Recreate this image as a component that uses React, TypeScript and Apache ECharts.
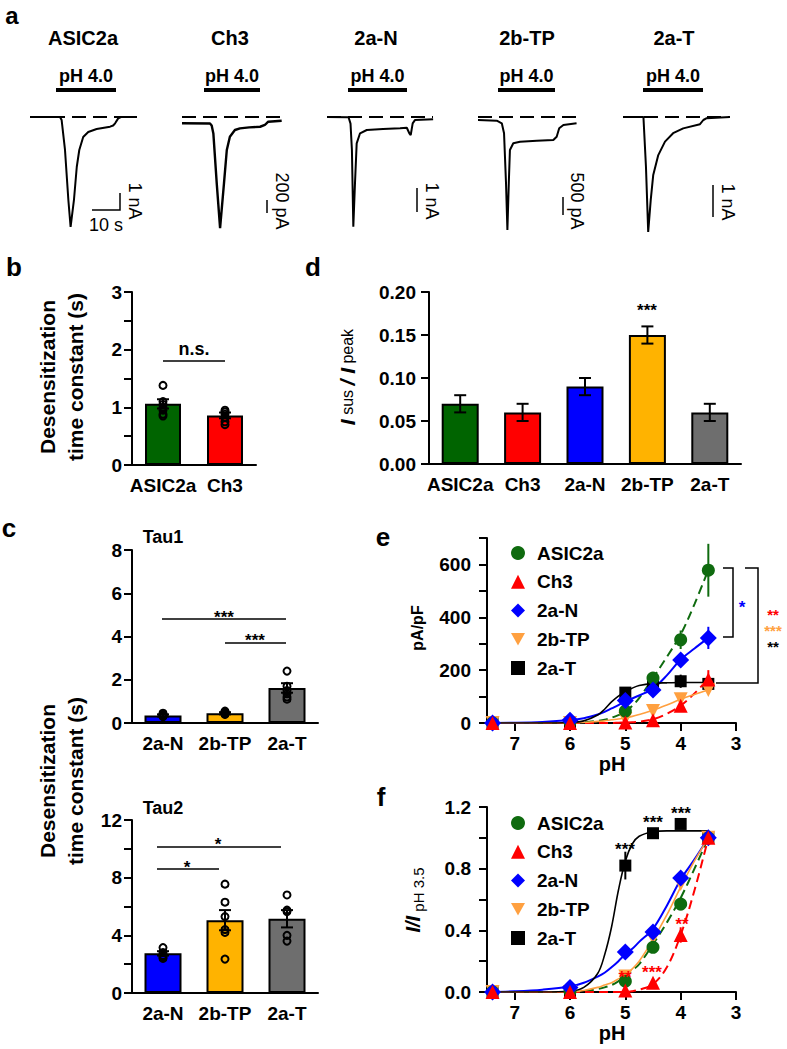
import React, { useEffect, useRef } from "react";
import * as echarts from "echarts";

const FONT = "'Liberation Sans', Arial, Helvetica, sans-serif";

// ---------------- Panel a: current traces ([time s, current]) ----------------
const TRACE_TITLES = ["ASIC2a", "Ch3", "2a-N", "2b-TP", "2a-T"];
const TRACE_ASIC2A = [[0, 0], [10.7, 0], [11.3, -0.18], [12.5, -1.94], [13.7, -4.88], [14.5, -6.47], [15.7, -4.88], [16.7, -2.94], [17.6, -1.94], [19.0, -1.18], [20.8, -0.88], [23.8, -0.71], [28.6, -0.57], [29.7, -0.5], [30.4, -0.37], [31.5, -0.08], [32.5, 0], [38.2, 0]];
const TRACE_CH3 = [[0, -97], [10, -100], [10.6, -130], [11.2, -252], [12.4, -1017], [13.6, -1710], [15, -1017], [16, -508], [17.1, -303], [18.9, -200], [20.7, -175], [24, -160], [27.9, -150], [29.6, -123], [30.8, -72], [35.6, -57]];
const TRACE_2AN = [[0, 0], [7.7, -0.01], [8.4, -0.3], [8.9, -1.5], [9.4, -4.99], [10.0, -3.0], [10.6, -1.2], [11.8, -0.74], [14.2, -0.59], [20, -0.54], [26.1, -0.51], [28.5, -0.49], [29.4, -0.74], [29.9, -0.82], [30.6, -0.29], [31.4, -0.14], [37.9, -0.1]];
const TRACE_2BTP = [[0, -68], [6.7, -84], [8.5, -143], [9.3, -370], [10.0, -1498], [10.5, -2565], [11.0, -1498], [11.4, -749], [12.6, -597], [15, -561], [21, -540], [26.9, -522], [28.1, -447], [29.0, -257], [30.5, -181], [35.2, -143]];
const TRACE_2AT = [[0, 0], [7.3, 0], [8.2, -1.66], [9.0, -3.83], [9.9, -2.77], [10.8, -1.93], [12.6, -1.27], [15, -0.82], [17.9, -0.54], [21.5, -0.38], [27.5, -0.24], [28.7, -0.1], [29.9, -0.04], [38.2, 0]];
const TRACES = [TRACE_ASIC2A, TRACE_CH3, TRACE_2AN, TRACE_2BTP, TRACE_2AT];
const SCALE_LABELS = ["1 nA", "200 pA", "1 nA", "500 pA", "1 nA"];

// ---------------- Panel b ----------------
const B_CATS = ["ASIC2a", "Ch3"];
const B_MEAN = [1.06, 0.86];
const B_SEM = [0.08, 0.05];
const B_DOTS = [[1.38, 1.1, 1.05, 1.0, 0.95, 0.88, 0.85], [0.95, 0.92, 0.88, 0.82, 0.75, 0.7]];

// ---------------- Panel d ----------------
const D_CATS = ["ASIC2a", "Ch3", "2a-N", "2b-TP", "2a-T"];
const D_MEAN = [0.07, 0.06, 0.09, 0.15, 0.06];
const D_SEM = [0.01, 0.01, 0.01, 0.01, 0.01];

// ---------------- Panel c ----------------
const C_CATS = ["2a-N", "2b-TP", "2a-T"];
const TAU1_MEAN = [0.35, 0.45, 1.62];
const TAU1_SEM = [0.05, 0.05, 0.22];
const TAU1_DOTS = [[0.3, 0.35, 0.4, 0.45, 0.38, 0.32], [0.4, 0.45, 0.5, 0.55, 0.48, 0.42], [2.4, 1.7, 1.5, 1.35, 1.2, 1.1]];
const TAU2_MEAN = [2.75, 5.05, 5.15];
const TAU2_SEM = [0.15, 0.7, 0.6];
const TAU2_DOTS = [[3.15, 2.8, 2.6, 2.5, 2.4], [7.55, 6.3, 5.3, 4.4, 4.2, 2.35], [6.8, 5.75, 5.65, 4.0, 3.6]];

// ---------------- Panels e / f ----------------
const GROUPS = ["ASIC2a", "Ch3", "2a-N", "2b-TP", "2a-T"];
const PH = [7.4, 6, 5, 4.5, 4, 3.5];
const E_VALUES = [
  [0, 4, 45, 170, 315, 578],
  [0, 0, 2, 10, 65, 165],
  [0, 10, 85, 125, 238, 322],
  [0, 0, 15, 45, 90, 125],
  [0, 0, 115, 155, 158, 148],
];
const E_SEM = [
  [0, 0, 8, 12, 35, 100],
  [0, 0, 0, 5, 15, 35],
  [0, 0, 10, 12, 20, 42],
  [0, 0, 0, 5, 8, 15],
  [0, 0, 10, 15, 25, 20],
];
const F_VALUES = [
  [0, 0.005, 0.07, 0.29, 0.57, 1.0],
  [0, 0, 0.01, 0.06, 0.37, 1.0],
  [0, 0.03, 0.26, 0.39, 0.74, 1.0],
  [0, 0, 0.1, 0.35, 0.7, 1.0],
  [0, 0, 0.82, 1.03, 1.09, 1.0],
];
const F_SEM = [
  [0, 0, 0.02, 0.03, 0.04, 0],
  [0, 0, 0, 0.02, 0.05, 0],
  [0, 0, 0.02, 0.03, 0.03, 0],
  [0, 0, 0, 0.02, 0.03, 0],
  [0, 0, 0.09, 0.03, 0.02, 0],
];
const FIT_PH = [7.5, 7, 6.5, 6, 5.75, 5.5, 5.375, 5.25, 5.125, 5, 4.875, 4.75, 4.5, 4.25, 4, 3.75, 3.5];
const E_FITS = [
  [0, 0, 0, 1, 3, 8, 12, 20, 30, 42, 65, 94, 170, 250, 335, 450, 580],
  [0, 0, 0, 0, 0, 0, 0, 0, 1, 2, 3, 5, 14, 35, 66, 112, 168],
  [0, 1, 4, 11, 18, 32, 42, 55, 68, 83, 93, 104, 130, 180, 240, 282, 322],
  [0, 0, 0, 0, 2, 6, 8, 12, 15, 20, 25, 32, 48, 68, 90, 108, 125],
  [0, 0, 0, 2, 8, 30, 52, 80, 102, 118, 132, 142, 150, 152, 153, 153, 153],
];
const F_FITS = [
  [0, 0, 0, 0, 0.005, 0.02, 0.03, 0.045, 0.07, 0.1, 0.14, 0.18, 0.31, 0.45, 0.61, 0.8, 1.0],
  [0, 0, 0, 0, 0, 0, 0, 0, 0, 0, 0.005, 0.015, 0.05, 0.16, 0.37, 0.66, 1.0],
  [0, 0.005, 0.015, 0.035, 0.06, 0.1, 0.125, 0.16, 0.2, 0.245, 0.28, 0.325, 0.41, 0.56, 0.73, 0.86, 1.0],
  [0, 0, 0, 0, 0.01, 0.03, 0.045, 0.06, 0.085, 0.11, 0.15, 0.2, 0.34, 0.5, 0.68, 0.85, 1.0],
  [0, 0, 0, 0.005, 0.03, 0.12, 0.24, 0.42, 0.66, 0.85, 0.96, 1.01, 1.04, 1.045, 1.045, 1.045, 1.045],
];
const PH_TICKS = [3, 4, 5, 6, 7];

// ---------------- styles / layout ----------------
const BAR_FILL: Record<string, string> = { "ASIC2a": "#006400", "Ch3": "#ff0000", "2a-N": "#0000ff", "2b-TP": "#ffb300", "2a-T": "#6e6e6e" };
const CURVE_COLOR = ["#0f6b0f", "#ff0000", "#0000ff", "#ffa040", "#000000"];
const CURVE_DASH = [true, true, false, false, false];
const CURVE_WIDTH = [2, 2, 2, 1.6, 1.6];
const SYMBOLS = ["circle", "triangle", "diamond", "path://M0,0L10,0L5,9Z", "rect"];
const SYMBOL_SIZE = [13, 14, 17, 14, 12];
const SYMBOL_Z = [6, 8, 7, 5, 4];

const TRACE_LAYOUT = [
  { left: 30, width: 107, ppu: 17, lw: 2 },
  { left: 182, width: 100, ppu: 0.065, lw: 2.4 },
  { left: 327, width: 106, ppu: 22, lw: 2 },
  { left: 478, width: 99, ppu: 0.044, lw: 2 },
  { left: 623, width: 107, ppu: 30, lw: 2 },
];
const PX_PER_S = 2.8;
const TRACE_TOP = 100;
const TRACE_H = 135;
const TRACE_BASE = 17;

const AX = { color: "#000", width: 2 };
const LABEL = { color: "#000", fontWeight: "bold" as const, fontSize: 19, fontFamily: FONT };

function errSeries(xi: number, data: number[][], color: string, cap: number, z: number, name: string) {
  return {
    type: "custom",
    name,
    xAxisIndex: xi,
    yAxisIndex: xi,
    z,
    silent: true,
    data,
    encode: { x: 0, y: 1 },
    renderItem: (_params: any, api: any) => {
      const x = api.value(0);
      const m = api.value(1);
      const s = api.value(2);
      if (!s) return { type: "group", children: [] };
      const top = api.coord([x, m + s]);
      const bot = api.coord([x, m - s]);
      const st = { stroke: color, lineWidth: 2 };
      const children: any[] = [{ type: "line", shape: { x1: top[0], y1: top[1], x2: bot[0], y2: bot[1] }, style: st }];
      if (cap) {
        children.push({ type: "line", shape: { x1: top[0] - cap, y1: top[1], x2: top[0] + cap, y2: top[1] }, style: st });
        children.push({ type: "line", shape: { x1: bot[0] - cap, y1: bot[1], x2: bot[0] + cap, y2: bot[1] }, style: st });
      }
      return { type: "group", children };
    },
  };
}

function buildOption() {
  const grid: any[] = [];
  const xAxis: any[] = [];
  const yAxis: any[] = [];
  const series: any[] = [];
  const g: any[] = [];

  // ---- panel a ----
  TRACE_LAYOUT.forEach((L, i) => {
    grid.push({ left: L.left, top: TRACE_TOP, width: L.width, height: TRACE_H });
    xAxis.push({ type: "value", gridIndex: i, min: 0, max: L.width / PX_PER_S, show: false });
    yAxis.push({ type: "value", gridIndex: i, min: -(TRACE_H - TRACE_BASE) / L.ppu, max: TRACE_BASE / L.ppu, show: false });
    series.push({
      type: "line",
      name: "trace-" + TRACE_TITLES[i],
      xAxisIndex: i,
      yAxisIndex: i,
      data: TRACES[i],
      symbol: "none",
      showSymbol: false,
      silent: true,
      lineStyle: { color: "#000", width: L.lw },
      markLine: {
        silent: true,
        symbol: ["none", "none"],
        label: { show: false },
        lineStyle: { color: "#000", width: 2, type: [14, 7] },
        data: [{ yAxis: 0 }],
      },
    });
  });

  // ---- bar panels ----
  function barPanel(idx: number, rect: any, cats: string[], means: number[], sems: number[], dots: number[][] | null,
    ymax: number, interval: number, fmt: (v: number) => string, margin: number, barWidth: number) {
    grid.push(rect);
    xAxis.push({
      type: "category", gridIndex: idx, data: cats,
      axisLine: { lineStyle: AX },
      axisTick: { length: 6, interval: 0, lineStyle: AX },
      axisLabel: { ...LABEL, interval: 0, margin: 11 },
    });
    yAxis.push({
      type: "value", gridIndex: idx, min: 0, max: ymax, interval,
      axisLine: { show: true, lineStyle: AX },
      axisTick: { show: true, length: 8, lineStyle: AX },
      splitLine: { show: false },
      axisLabel: { ...LABEL, margin, formatter: fmt },
    });
    series.push({
      type: "bar", name: "bar" + idx, xAxisIndex: idx, yAxisIndex: idx, barWidth, z: 2, silent: true,
      data: means.map((v, i) => ({ value: v, itemStyle: { color: BAR_FILL[cats[i]] } })),
      itemStyle: { borderColor: "#000", borderWidth: 2 },
    });
    series.push(errSeries(idx, means.map((m, i) => [i, m, sems[i]]), "#000", 6, 3, "err" + idx));
    if (dots) {
      series.push({
        type: "scatter", name: "dots" + idx, xAxisIndex: idx, yAxisIndex: idx, z: 4, silent: true,
        symbol: "circle", symbolSize: 7,
        itemStyle: { color: "rgba(0,0,0,0)", borderColor: "#000", borderWidth: 2, opacity: 1 },
        data: dots.flatMap((arr, i) => arr.map((v) => [i, v])),
      });
    }
  }

  barPanel(5, { left: 132, top: 292, width: 124, height: 173 }, B_CATS, B_MEAN, B_SEM, B_DOTS, 3, 0.5,
    (v) => (Math.abs(v - Math.round(v)) < 1e-6 ? String(Math.round(v)) : ""), 10, 36);
  barPanel(6, { left: 429, top: 292, width: 312, height: 172 }, D_CATS, D_MEAN, D_SEM, null, 0.2, 0.05,
    (v) => v.toFixed(2), 13, 37);
  barPanel(7, { left: 132, top: 550, width: 186, height: 173 }, C_CATS, TAU1_MEAN, TAU1_SEM, TAU1_DOTS, 8, 2,
    (v) => String(Math.round(v)), 10, 37);
  barPanel(8, { left: 132, top: 820, width: 186, height: 173 }, C_CATS, TAU2_MEAN, TAU2_SEM, TAU2_DOTS, 12, 2,
    (v) => (Math.round(v) % 4 === 0 ? String(Math.round(v)) : ""), 10, 37);

  // ---- dose-response panels ----
  function doseAxes(idx: number, top: number, ymax: number, interval: number, fmt: (v: number) => string) {
    grid.push({ left: 487, top, width: 249, height: 185 });
    xAxis.push({
      type: "value", gridIndex: idx, min: 3, max: 7.5, interval: 1, inverse: true,
      axisLine: { onZero: false, lineStyle: AX },
      axisTick: { length: 8, lineStyle: AX, customValues: PH_TICKS },
      axisLabel: { ...LABEL, margin: 11, customValues: PH_TICKS, formatter: (v: number) => (Number.isInteger(v) ? String(v) : "") },
      splitLine: { show: false },
    });
    yAxis.push({
      type: "value", gridIndex: idx, min: 0, max: ymax, interval,
      axisLine: { show: true, onZero: false, lineStyle: AX },
      axisTick: { show: true, length: 8, lineStyle: AX },
      splitLine: { show: false },
      axisLabel: { ...LABEL, margin: 16, formatter: fmt },
    });
  }
  doseAxes(9, 538, 700, 100, (v) => (Math.round(v) % 200 === 0 ? String(Math.round(v)) : ""));
  doseAxes(10, 807, 1.2, 0.2, (v) => {
    const k = v / 0.4;
    return Math.abs(k - Math.round(k)) < 1e-6 ? v.toFixed(1) : "";
  });

  [[9, E_VALUES, E_SEM, E_FITS], [10, F_VALUES, F_SEM, F_FITS]].forEach(([idx, vals, sems, fits]: any) => {
    GROUPS.forEach((name, gi) => {
      series.push({
        type: "line", name: "fit" + idx + name, xAxisIndex: idx, yAxisIndex: idx, z: 2, silent: true,
        symbol: "none", showSymbol: false, smooth: 0.35,
        lineStyle: { color: CURVE_COLOR[gi], width: CURVE_WIDTH[gi], type: CURVE_DASH[gi] ? [9, 5] : "solid" },
        data: FIT_PH.map((p, k) => [p, fits[gi][k]]),
      });
      series.push(errSeries(idx, PH.map((p, k) => [p, vals[gi][k], sems[gi][k]]), CURVE_COLOR[gi], 0, 3, "err" + idx + name));
    });
    GROUPS.forEach((name, gi) => {
      series.push({
        type: "scatter", name, xAxisIndex: idx, yAxisIndex: idx, z: SYMBOL_Z[gi], silent: true,
        symbol: SYMBOLS[gi], symbolSize: SYMBOL_SIZE[gi],
        itemStyle: { color: CURVE_COLOR[gi], opacity: 1 },
        data: PH.map((p, k) => [p, vals[gi][k]]),
      });
    });
  });

  const legendBase = {
    data: GROUPS, orient: "vertical", left: 511, itemWidth: 14, itemHeight: 14, itemGap: 8.75, padding: 0,
    selectedMode: false,
    textStyle: { fontSize: 19, fontWeight: "bold", fontFamily: FONT, color: "#000", lineHeight: 20, padding: [0, 0, 0, 7] },
  };
  const legend = [{ ...legendBase, top: 543 }, { ...legendBase, top: 813 }];

  // ---- graphic annotations ----
  const txt = (text: string, x: number, y: number, size: number, opts: any = {}) => ({
    type: "text", x, y, rotation: opts.rotation || 0, silent: true, z: 100,
    style: {
      text, fontSize: size, fontWeight: opts.weight || "bold", fontFamily: FONT, fill: opts.color || "#000",
      align: opts.align || "center", verticalAlign: "middle", lineHeight: opts.lineHeight, rich: opts.rich,
    },
  });
  const ln = (x1: number, y1: number, x2: number, y2: number, w = 1.5, color = "#000") => ({
    type: "line", silent: true, z: 100, shape: { x1, y1, x2, y2 }, style: { stroke: color, lineWidth: w },
  });
  const pl = (points: number[][], w = 1.5) => ({
    type: "polyline", silent: true, z: 100, shape: { points }, style: { stroke: "#000", lineWidth: w, fill: "none" },
  });

  // panel letters
  g.push(txt("a", 12, 15, 24));
  [["b", 14, 267], ["c", 9, 528], ["d", 313, 267], ["e", 383, 537], ["f", 381, 797]].forEach(([t, x, y]: any) =>
    g.push(txt(t, x, y, 26)));

  // panel a headers
  const titleX = [83, 230, 376, 527, 674];
  const pulse = [[56, 116], [204, 260], [348, 407], [498, 555], [643, 703]];
  TRACE_TITLES.forEach((t, i) => {
    g.push(txt(t, titleX[i], 38, 20));
    g.push(txt("pH 4.0", (pulse[i][0] + pulse[i][1]) / 2, 76, 18));
    g.push({ type: "rect", silent: true, z: 100, shape: { x: pulse[i][0], y: 88, width: pulse[i][1] - pulse[i][0], height: 4 }, style: { fill: "#000" } });
  });
  // scale bars
  g.push(pl([[92, 210], [120, 210], [120, 193]]));
  g.push(txt("10 s", 106, 225, 18, { weight: "normal" }));
  const sb = [[120, 193, 210, 135, 201], [267, 200, 213, 282, 201], [417, 188, 212, 432, 201], [563, 197, 215, 577, 201], [713, 185, 217, 728, 202]];
  sb.forEach((s, i) => {
    if (i > 0) g.push(ln(s[0], s[1], s[0], s[2]));
    g.push(txt(SCALE_LABELS[i], s[3], s[4], 18, { weight: "normal", rotation: -Math.PI / 2 }));
  });

  // axis titles
  g.push(txt("Desensitization\ntime constant (s)", 61, 377, 21, { rotation: Math.PI / 2, lineHeight: 28 }));
  g.push(txt("Desensitization\ntime constant (s)", 61, 781, 21, { rotation: Math.PI / 2, lineHeight: 28 }));
  g.push(txt("{a|I}{b| sus }{a|/ I}{b| peak}", 347, 377, 21, {
    rotation: Math.PI / 2,
    rich: {
      a: { fontSize: 21, fontWeight: "bold", fontStyle: "italic", fontFamily: FONT, fill: "#000" },
      b: { fontSize: 16, fontWeight: "normal", fontFamily: FONT, fill: "#000" },
    },
  }));
  g.push(txt("pA/pF", 417, 628, 16, { rotation: Math.PI / 2 }));
  g.push(txt("{a|I/I}{b| pH 3.5}", 413, 900, 20, {
    rotation: Math.PI / 2,
    rich: {
      a: { fontSize: 20, fontWeight: "bold", fontStyle: "italic", fontFamily: FONT, fill: "#000", lineHeight: 26, verticalAlign: "middle" },
      b: { fontSize: 15, fontWeight: "normal", fontFamily: FONT, fill: "#000", lineHeight: 26, verticalAlign: "bottom" },
    },
  }));
  g.push(txt("pH", 612, 764, 20));
  g.push(txt("pH", 612, 1033, 20));
  g.push(txt("Tau1", 163, 537, 18));
  g.push(txt("Tau2", 163, 808, 18));

  // significance
  g.push(ln(163, 361, 225, 361));
  g.push(txt("n.s.", 194, 349, 18));
  g.push(txt("***", 647, 310, 17));
  g.push(ln(162, 619, 286, 619));
  g.push(txt("***", 224, 617, 17));
  g.push(ln(225, 643, 286, 643));
  g.push(txt("***", 255, 640, 17));
  g.push(ln(157, 847, 281, 847));
  g.push(txt("*", 218, 844, 17));
  g.push(ln(157, 869, 219, 869));
  g.push(txt("*", 187, 867, 17));
  // e brackets
  g.push(pl([[723, 568], [733, 568], [733, 637], [723, 637]]));
  g.push(pl([[745, 568], [758, 568], [758, 683], [716, 683]]));
  g.push(txt("*", 742, 607, 17, { color: "#0000ff" }));
  g.push(txt("**", 773, 614, 15, { color: "#ff0000" }));
  g.push(txt("***", 773, 630, 15, { color: "#ffa040" }));
  g.push(txt("**", 773, 646, 15, { color: "#000" }));
  // f stars
  g.push(txt("***", 625, 849, 17));
  g.push(txt("***", 653, 822, 17));
  g.push(txt("***", 681, 813, 17));
  g.push(txt("**", 625, 977, 17, { color: "#ff0000" }));
  g.push(txt("***", 652, 972, 17, { color: "#ff0000" }));
  g.push(txt("**", 682, 924, 17, { color: "#ff0000" }));

  return {
    animation: false,
    backgroundColor: "#fff",
    textStyle: { fontFamily: FONT },
    grid, xAxis, yAxis, series, legend,
    graphic: { elements: g },
  };
}

export default function App() {
  const ref = useRef<HTMLDivElement>(null);
  useEffect(() => {
    if (!ref.current) return;
    const chart = echarts.init(ref.current, undefined, { renderer: "svg" });
    chart.setOption(buildOption() as any);
    return () => chart.dispose();
  }, []);
  return <div ref={ref} style={{ position: "absolute", left: 0, top: 0, width: 787, height: 1049, background: "#fff" }} />;
}
